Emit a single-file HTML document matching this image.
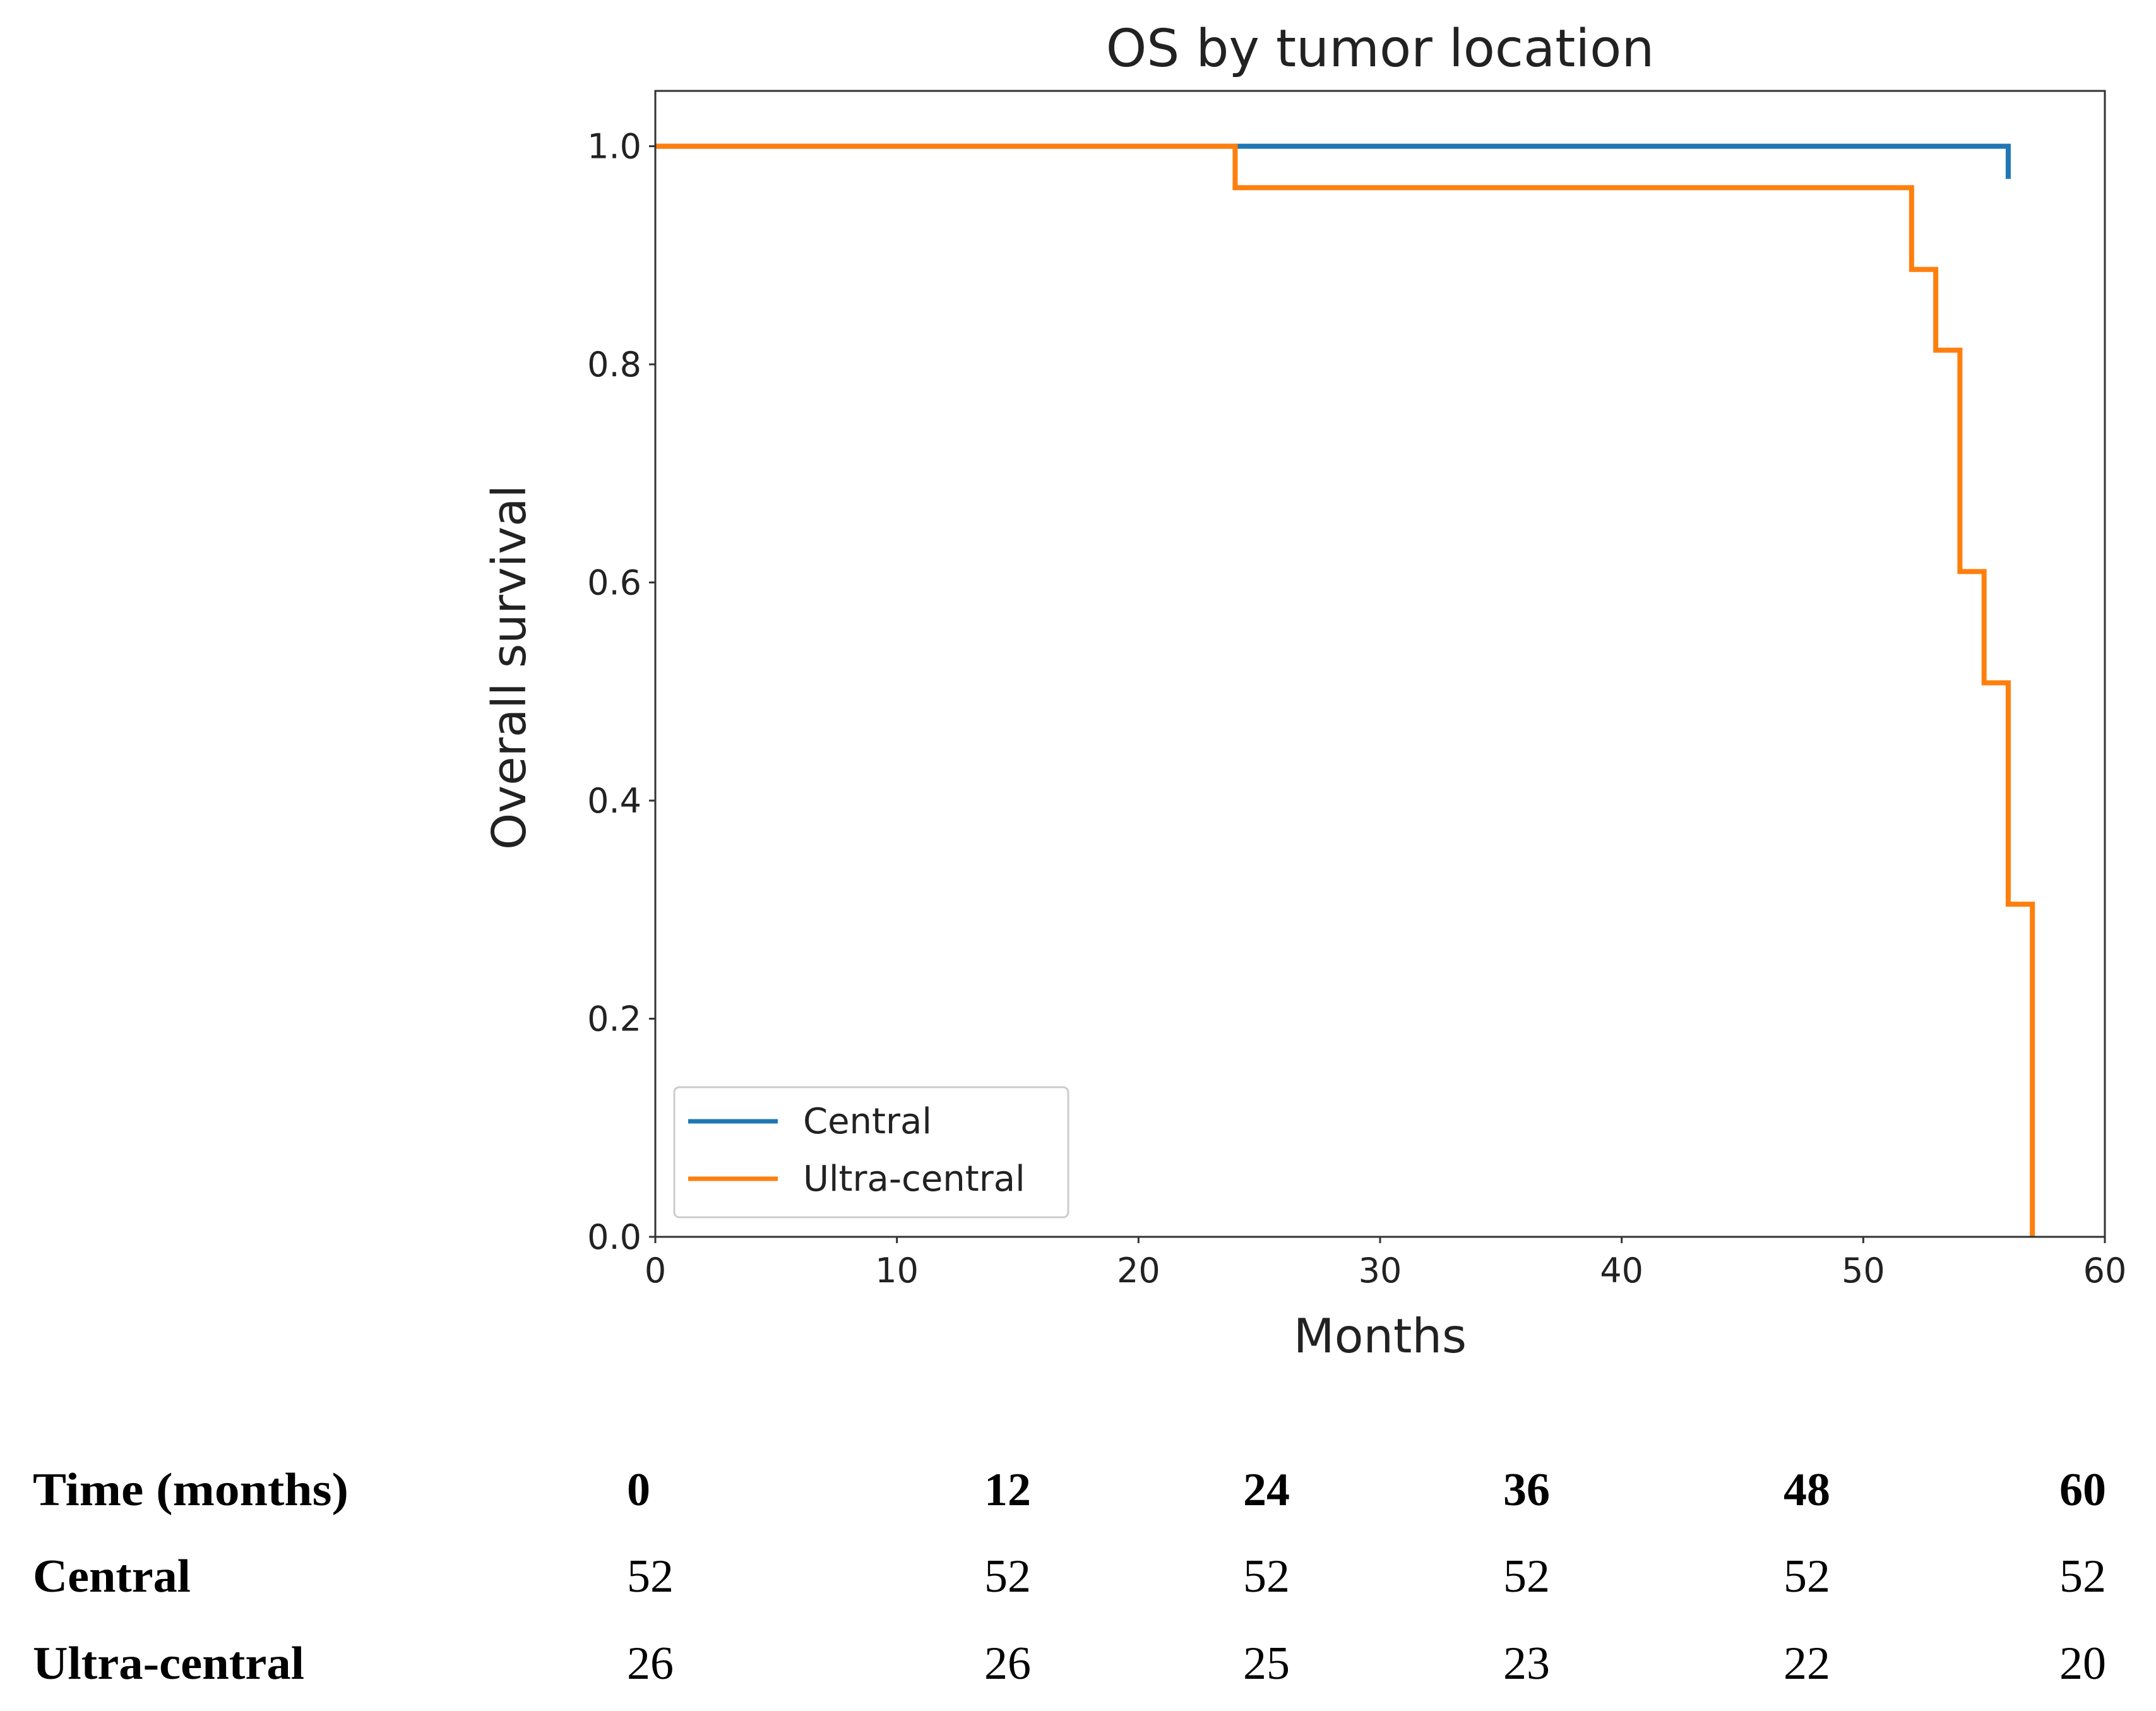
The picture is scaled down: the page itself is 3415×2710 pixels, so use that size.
<!DOCTYPE html>
<html><head><meta charset="utf-8"><style>
html,body{margin:0;padding:0;background:#fff}
svg{display:block}
.dj{font-family:"DejaVu Sans","Liberation Sans",sans-serif;fill:#222}
.sf{font-family:"Liberation Serif",serif;fill:#000}
</style></head><body>
<svg id="chart" width="3415" height="2710" viewBox="0 0 3415 2710" xmlns="http://www.w3.org/2000/svg">
<rect width="3415" height="2710" fill="#fff"/>
<text class="dj" x="2186" y="105" font-size="82" text-anchor="middle">OS by tumor location</text>
<g id="plot"></g>
<text class="dj" x="2186" y="2142" font-size="75" text-anchor="middle">Months</text>
<text class="dj" x="0" y="0" font-size="74" text-anchor="middle" transform="translate(832,1057) rotate(-90)">Overall survival</text>
<g id="legend">
<rect x="1068" y="1722" width="624" height="206" rx="8" fill="#fff" fill-opacity="0.8" stroke="#ccc" stroke-width="3"/>
<line x1="1090" y1="1776" x2="1232" y2="1776" stroke="#1f77b4" stroke-width="7"/>
<text class="dj" x="1272" y="1795" font-size="56">Central</text>
<line x1="1090" y1="1867" x2="1232" y2="1867" stroke="#ff7f0e" stroke-width="7"/>
<text class="dj" x="1272" y="1886" font-size="56">Ultra-central</text>
</g>
<g id="table"></g>
</svg>
<script>
const xTicks=[0,10,20,30,40,50,60];
const yTicks=[0,0.2,0.4,0.6,0.8,1.0];
const centralT=[0,56,56];
const centralS=[1.0,1.0,0.97];
const ultraT=[0,24,52,53,54,55,56,57];
const ultraS=[1.0,0.962,0.887,0.813,0.61,0.508,0.305,0.0];
const tableTimes=["0","12","24","36","48","60"];
const tableCentral=["52","52","52","52","52","52"];
const tableUltra=["26","26","25","23","22","20"];

const NS="http://www.w3.org/2000/svg";
const L=1038,R=3334,T=144,B=1959,XMAX=60,YMAX=1.0507;
const xs=v=>L+(v/XMAX)*(R-L);
const ys=v=>B-(v/YMAX)*(B-T);
const plot=document.getElementById('plot');
function mk(tag,attrs,parent){const e=document.createElementNS(NS,tag);for(const k in attrs)e.setAttribute(k,attrs[k]);parent.appendChild(e);return e;}

xTicks.forEach(v=>{
  const t=mk('line',{x1:xs(v),x2:xs(v),y1:B,y2:B+10,stroke:'#333','stroke-width':3},plot);
  
  
  const l=mk('text',{x:xs(v),y:B+72,'font-size':54,'text-anchor':'middle',class:'dj'},plot);
  l.textContent=String(v);
  
  
});
yTicks.forEach(v=>{
  const t=mk('line',{x1:L-10,x2:L,y1:ys(v),y2:ys(v),stroke:'#333','stroke-width':3},plot);
  
  
  const l=mk('text',{x:L-22,y:ys(v)+19,'font-size':54,'text-anchor':'end',class:'dj'},plot);
  l.textContent=v.toFixed(1);
  
  
});
function stepPath(ts,ss){
  let d='M'+xs(ts[0])+','+ys(ss[0]);
  for(let i=1;i<ts.length;i++){d+=' H'+xs(ts[i])+' V'+ys(ss[i]);}
  return d;
}
const pc=mk('path',{d:stepPath(centralT,centralS),fill:'none',stroke:'#1f77b4','stroke-width':8},plot);


const pu=mk('path',{d:stepPath(ultraT,ultraS),fill:'none',stroke:'#ff7f0e','stroke-width':8},plot);


const fr=mk('rect',{x:L,y:T,width:R-L,height:B-T,fill:'none',stroke:'#333','stroke-width':3},plot);



const tbl=document.getElementById('table');
const colX=[993,1559,1969,2381,2825,3262];
const rows=[
 {label:'Time (months)',vals:tableTimes,y:2384,bold:true,name:'time-row',w:500},
 {label:'Central',vals:tableCentral,y:2521,bold:false,name:'central-row',w:250},
 {label:'Ultra-central',vals:tableUltra,y:2659,bold:false,name:'ultra-central-row',w:430}
];
rows.forEach(r=>{
  const lb=mk('text',{x:52,y:r.y,'font-size':74,'font-weight':'bold',class:'sf',textLength:r.w,lengthAdjust:'spacingAndGlyphs'},tbl);
  lb.textContent=r.label;
  
  
  r.vals.forEach((v,i)=>{
    const c=mk('text',{x:colX[i],y:r.y,'font-size':74,'font-weight':r.bold?'bold':'normal',class:'sf'},tbl);
    c.textContent=v;
    
    
  });
});
</script>
</body></html>
